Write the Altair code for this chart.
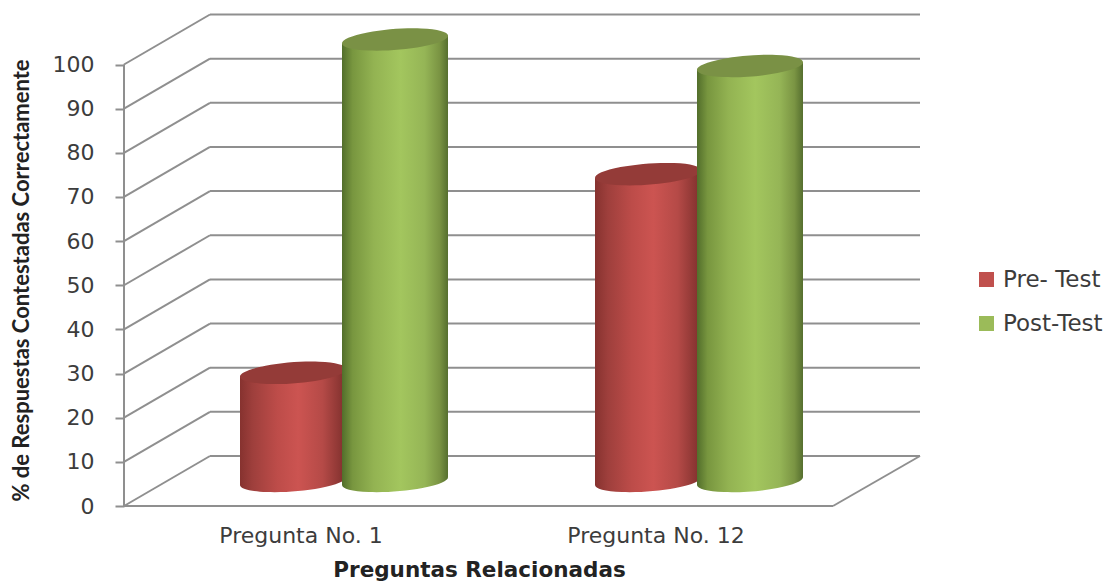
import altair as alt
import pandas as pd

# Chart values
series = ["Pre- Test", "Post-Test"]
questions = ["Pregunta No. 1", "Pregunta No. 12"]
pre_test = [24.5, 69.5]
post_test = [100, 94]
ticks = [0, 10, 20, 30, 40, 50, 60, 70, 80, 90, 100]

# Layout of the pseudo-3D box, in x-scale units and value units
PLOT_W, PLOT_H = 796, 492
PX_PER_UNIT = 4.415
Y_MAX = PLOT_H / PX_PER_UNIT
DEPTH_X = 86
DEPTH_Y = 50 / PX_PER_UNIT
FLOOR_W = 709
CYL_W = 106
CYL_STEP = 102
TILT = 4 / PX_PER_UNIT
GROUP_LEFT = [116, 471]

x_scale = alt.Scale(domain=[0, PLOT_W], range=[0, PLOT_W], nice=False)
y_scale = alt.Scale(domain=[0, Y_MAX], nice=False, zero=False)

GRID = "#8f8f8f"
TEXT = "#3c3c3c"
FONT = "DejaVu Sans"
NARROW = "Lato"

x_axis = alt.Axis(
    values=[0], domain=False, ticks=False, labels=False, grid=False,
    title="Preguntas Relacionadas", titleFont=FONT, titleFontSize=21.5,
    titleFontWeight="bold", titleColor="#222222",
    titleX=355, titleY=70, titleAnchor="middle", titleBaseline="alphabetic",
)
y_axis = alt.Axis(
    values=ticks, domain=False, grid=False, tickSize=9, tickColor=GRID, tickWidth=2,
    labelFont=FONT, labelFontSize=22, labelColor=TEXT, labelPadding=21,
    title="% de Respuestas Contestadas Correctamente", titleFont=NARROW,
    titleFontSize=22, titleFontWeight="bold", titleColor="#222222",
    titleX=-91, titleY=266, titleAnchor="middle",
)


def X(field="x"):
    return alt.X(f"{field}:Q", scale=x_scale, axis=x_axis)


def Y(field="y"):
    return alt.Y(f"{field}:Q", scale=y_scale, axis=y_axis, stack=None)


# Wall and floor lines
rules = []
for v in ticks:
    rules.append({"x": 0, "x2": DEPTH_X, "y": v, "y2": v + DEPTH_Y})
    rules.append({"x": DEPTH_X, "x2": PLOT_W, "y": v + DEPTH_Y, "y2": v + DEPTH_Y})
rules.append({"x": 0, "x2": FLOOR_W, "y": 0, "y2": 0})
rules.append({"x": FLOOR_W, "x2": PLOT_W, "y": 0, "y2": DEPTH_Y})
rules.append({"x": 0, "x2": 0, "y": 0, "y2": 100})
rule_df = pd.DataFrame(rules)

grid = (
    alt.Chart(rule_df)
    .mark_rule(color=GRID, strokeWidth=2)
    .encode(x=X(), x2="x2:Q", y=Y(), y2="y2:Q")
)

# Category labels under the floor
label_df = pd.DataFrame({
    "label": questions,
    "x": [left + CYL_STEP + 2 - DEPTH_X / 2 for left in GROUP_LEFT],
})
labels = (
    alt.Chart(label_df)
    .mark_text(font=FONT, fontSize=22, color=TEXT, align="center", baseline="alphabetic")
    .encode(x=X(), y=alt.value(PLOT_H + 37), text="label:N")
)

# One row per cylinder
rows = []
for g, left in enumerate(GROUP_LEFT):
    for s, (name, vals) in enumerate(zip(series, [pre_test, post_test])):
        rows.append({
            "series": name,
            "cyl": f"{g}-{s}",
            "left": left + s * CYL_STEP,
            "value": vals[g],
        })
cyl_df = pd.DataFrame(rows)
cyl_df["center"] = cyl_df["left"] + CYL_W / 2
cyl_df["top"] = cyl_df["value"] + DEPTH_Y / 2
cyl_df["base"] = DEPTH_Y / 2

# Side of each cylinder as a slanted band between its two ellipses
body_rows = []
for r in cyl_df.itertuples():
    body_rows.append({"series": r.series, "cyl": r.cyl, "x": r.left,
                      "y": r.top - TILT, "y2": r.base - TILT})
    body_rows.append({"series": r.series, "cyl": r.cyl, "x": r.left + CYL_W,
                      "y": r.top + TILT, "y2": r.base + TILT})
body_df = pd.DataFrame(body_rows)

ELLIPSE = ("M-1,0.075 A1.003,0.195 -4.3 1 1 1,-0.075 "
           "A1.003,0.195 -4.3 1 1 -1,0.075 Z")
SIZE = CYL_W ** 2


def shade(stops):
    return alt.Gradient(
        gradient="linear", x1=0, x2=1, y1=0, y2=0,
        stops=[alt.GradientStop(offset=o, color=c) for o, c in stops],
    )


styles = {
    "Pre- Test": {
        "side": shade([(0, "#86322f"), (0.12, "#9e3f3c"), (0.35, "#bd4c49"),
                       (0.55, "#cc5451"), (0.78, "#b54a47"), (1, "#7d2f2c")]),
        "cap": "#943b38",
    },
    "Post-Test": {
        "side": shade([(0, "#526e2b"), (0.1, "#78963f"), (0.3, "#93b352"),
                       (0.55, "#a3c65e"), (0.78, "#95b556"), (0.92, "#7a9443"), (1, "#566f2f")]),
        "cap": "#7a9145",
    },
}

# Flat base colour of each side, which also supplies the legend
base = (
    alt.Chart(body_df)
    .mark_area(opacity=1)
    .encode(
        x=X(), y=Y(), y2="y2:Q", detail="cyl:N",
        color=alt.Color("series:N", scale=alt.Scale(domain=series, range=["#C0504D", "#9BBB59"]),
                        legend=alt.Legend(
                            orient="none", legendX=851, legendY=254, title=None,
                            symbolType="square", symbolSize=225, symbolStrokeWidth=0,
                            labelFont=FONT, labelFontSize=23, labelColor=TEXT,
                            labelOffset=5, rowPadding=20, padding=0,
                        )),
    )
)

parts = [grid, labels, base]
for name in series:
    style = styles[name]
    one = f"datum.series === '{name}'"
    bottom = (
        alt.Chart(cyl_df).transform_filter(one)
        .mark_point(shape=ELLIPSE, size=SIZE, filled=True, fill=style["side"], opacity=1, strokeWidth=0)
        .encode(x=X("center"), y=Y("base"))
    )
    side = (
        alt.Chart(body_df).transform_filter(one)
        .mark_area(fill=style["side"], opacity=1)
        .encode(x=X(), y=Y(), y2="y2:Q", detail="cyl:N")
    )
    cap = (
        alt.Chart(cyl_df).transform_filter(one)
        .mark_point(shape=ELLIPSE, size=SIZE, filled=True, fill=style["cap"], opacity=1, strokeWidth=0)
        .encode(x=X("center"), y=Y("top"))
    )
    parts += [bottom, side, cap]

chart = (
    alt.layer(*parts)
    .properties(
        width=PLOT_W, height=PLOT_H,
        padding={"left": 124, "top": 14, "right": 198, "bottom": 76},
        autosize=alt.AutoSizeParams(type="none"),
        view=alt.ViewBackground(stroke="transparent"),
    )
    .configure_view(stroke="transparent", strokeWidth=0)
    .configure(background="white")
)

chart.save("out.html", embed_options={"renderer": "svg", "actions": False})
